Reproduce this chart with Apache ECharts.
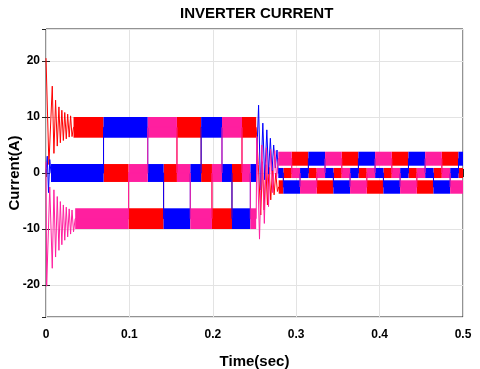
<!DOCTYPE html>
<html>
<head>
<meta charset="utf-8">
<script src="https://cdn.jsdelivr.net/npm/echarts@6/dist/echarts.min.js"></script>
<style>
html, body { margin: 0; padding: 0; background: #fff; }
#chart { width: 480px; height: 369px; }
</style>
</head>
<body>
<div id="chart"></div>
<script>
// axis ticks
var xTicks = [0, 0.1, 0.2, 0.3, 0.4, 0.5];
var yTicks = [-20, -10, 0, 10, 20];

// ripple bands of each phase: [tStart, tEnd, low, high]
var redBands = [
    [0.033, 0.069, 6.3, 10.0], [0.069, 0.099, -1.6, 1.6], [0.099, 0.141, -10.0, -6.3],
    [0.141, 0.157, -1.6, 1.6], [0.157, 0.186, 6.3, 10.0], [0.186, 0.199, -1.6, 1.6],
    [0.199, 0.223, -10.0, -6.3], [0.223, 0.235, -1.6, 1.6], [0.235, 0.252, 6.3, 10.0],
    [0.279, 0.2846, -3.7, -1.3], [0.2846, 0.2946, -0.9, 0.9], [0.2946, 0.3146, 1.3, 3.8],
    [0.3146, 0.3246, -0.9, 0.9], [0.3246, 0.3446, -3.7, -1.3], [0.3446, 0.3546, -0.9, 0.9],
    [0.3546, 0.3746, 1.3, 3.8], [0.3746, 0.3846, -0.9, 0.9], [0.3846, 0.4046, -3.7, -1.3],
    [0.4046, 0.4146, -0.9, 0.9], [0.4146, 0.4346, 1.3, 3.8], [0.4346, 0.4446, -0.9, 0.9],
    [0.4446, 0.4646, -3.7, -1.3], [0.4646, 0.4746, -0.9, 0.9], [0.4746, 0.4946, 1.3, 3.8],
    [0.4946, 0.5, -0.9, 0.9]
];
var blueBands = [
    [0.006, 0.069, -1.6, 1.6], [0.069, 0.122, 6.3, 10.0], [0.122, 0.141, -1.6, 1.6],
    [0.141, 0.173, -10.0, -6.3], [0.173, 0.186, -1.6, 1.6], [0.186, 0.211, 6.3, 10.0],
    [0.211, 0.223, -1.6, 1.6], [0.223, 0.245, -10.0, -6.3], [0.245, 0.252, -1.6, 1.6],
    [0.2785, 0.2846, -0.9, 0.9], [0.2846, 0.3046, -3.7, -1.3], [0.3046, 0.3146, -0.9, 0.9],
    [0.3146, 0.3346, 1.3, 3.8], [0.3346, 0.3446, -0.9, 0.9], [0.3446, 0.3646, -3.7, -1.3],
    [0.3646, 0.3746, -0.9, 0.9], [0.3746, 0.3946, 1.3, 3.8], [0.3946, 0.4046, -0.9, 0.9],
    [0.4046, 0.4246, -3.7, -1.3], [0.4246, 0.4346, -0.9, 0.9], [0.4346, 0.4546, 1.3, 3.8],
    [0.4546, 0.4646, -0.9, 0.9], [0.4646, 0.4846, -3.7, -1.3], [0.4846, 0.4946, -0.9, 0.9],
    [0.4946, 0.5, 1.3, 3.8]
];
var pinkBands = [
    [0.035, 0.099, -10.0, -6.3], [0.099, 0.122, -1.6, 1.6], [0.122, 0.157, 6.3, 10.0],
    [0.157, 0.173, -1.6, 1.6], [0.173, 0.199, -10.0, -6.3], [0.199, 0.211, -1.6, 1.6],
    [0.211, 0.235, 6.3, 10.0], [0.235, 0.245, -1.6, 1.6], [0.245, 0.252, -10.0, -6.3],
    [0.2785, 0.2946, 1.3, 3.8], [0.2946, 0.3046, -0.9, 0.9], [0.3046, 0.3246, -3.7, -1.3],
    [0.3246, 0.3346, -0.9, 0.9], [0.3346, 0.3546, 1.3, 3.8], [0.3546, 0.3646, -0.9, 0.9],
    [0.3646, 0.3846, -3.7, -1.3], [0.3846, 0.3946, -0.9, 0.9], [0.3946, 0.4146, 1.3, 3.8],
    [0.4146, 0.4246, -0.9, 0.9], [0.4246, 0.4446, -3.7, -1.3], [0.4446, 0.4546, -0.9, 0.9],
    [0.4546, 0.4746, 1.3, 3.8], [0.4746, 0.4846, -0.9, 0.9], [0.4846, 0.5, -3.7, -1.3]
];

// damped oscillation peaks at start-up and at the speed step: [t, current]
var redStart = [
    [0.0000, 20.5], [0.0035, 1.5], [0.0075, 15.5], [0.0095, 3.5], [0.0115, 13.0], [0.0135, 4.8],
    [0.0155, 11.8], [0.0172, 5.4], [0.0190, 11.2], [0.0208, 5.8], [0.0225, 10.8], [0.0243, 6.1],
    [0.0260, 10.5], [0.0278, 6.4], [0.0295, 10.2], [0.0312, 6.5]
];
var blueStart = [[0.0000, 0.0], [0.0015, 3.0], [0.0030, -3.5], [0.0045, 2.4]];
var pinkStart = [
    [0.0000, 2.0], [0.0008, -20.2], [0.0045, -2.5], [0.0075, -17.0], [0.0095, -3.0], [0.0115, -15.0],
    [0.0135, -4.2], [0.0155, -13.8], [0.0172, -5.1], [0.0190, -12.8], [0.0208, -5.7], [0.0225, -12.0],
    [0.0243, -6.1], [0.0260, -11.4], [0.0278, -6.4], [0.0295, -10.9], [0.0312, -6.6], [0.0330, -10.5]
];
var redStep = [
    [0.2545, 1.5], [0.2575, -7.5], [0.2595, 2.0], [0.2615, -6.6], [0.2635, 1.5], [0.2655, -5.7],
    [0.2675, 1.0], [0.2695, -4.8], [0.2715, 0.5], [0.2735, -3.9], [0.2755, 0.0], [0.2775, -3.3]
];
var blueStep = [
    [0.2549, 12.1], [0.2572, -3.0], [0.2600, 8.9], [0.2622, -1.2], [0.2648, 7.7], [0.2668, -0.2],
    [0.2690, 6.2], [0.2710, 0.4], [0.2730, 5.0], [0.2750, 0.9], [0.2770, 4.1]
];
var pinkStep = [
    [0.2528, 6.5], [0.2560, -11.8], [0.2588, 5.0], [0.2618, -9.0], [0.2643, 4.5], [0.2668, -6.0],
    [0.2693, 4.2], [0.2718, -3.5], [0.2743, 4.0], [0.2765, -1.0]
];

var font = '"Liberation Sans", Arial, Helvetica, sans-serif';

function tracePoints(bands, transients) {
    var pts = transients.slice();
    bands.forEach(function (b) {
        var c = (b[2] + b[3]) / 2;
        pts.push([b[0], c], [b[1], c]);
    });
    return pts.sort(function (a, b) { return a[0] - b[0]; });
}

function renderBand(params, api) {
    var p0 = api.coord([api.value(0), api.value(3)]);
    var p1 = api.coord([api.value(1), api.value(2)]);
    return {
        type: 'rect',
        shape: { x: p0[0], y: p0[1], width: p1[0] - p0[0], height: p1[1] - p0[1] },
        style: { fill: api.visual('color') }
    };
}

function phaseSeries(name, color, bands, transients) {
    return [{
        name: name,
        type: 'custom',
        renderItem: renderBand,
        encode: { x: [0, 1], y: [2, 3] },
        itemStyle: { color: color },
        data: bands,
        silent: true
    }, {
        name: name,
        type: 'line',
        showSymbol: false,
        lineStyle: { color: color, width: 1 },
        data: tracePoints(bands, transients),
        silent: true
    }];
}

var axisText = { color: '#000', fontFamily: font, fontWeight: 'bold', fontSize: 12 };

var option = {
    animation: false,
    title: {
        text: 'INVERTER CURRENT',
        left: 180,
        top: 6,
        padding: 0,
        textStyle: { color: '#000', fontFamily: font, fontWeight: 'bold', fontSize: 15 }
    },
    grid: {
        left: 46, right: 17, top: 29, bottom: 52,
        outerBoundsMode: 'none',
        containLabel: false,
        show: true, borderColor: '#262626', borderWidth: 1
    },
    xAxis: [{
        type: 'value', min: 0, max: 0.5, interval: 0.1,
        name: 'Time(sec)', nameLocation: 'middle', nameGap: 37, nameMoveOverlap: false,
        nameTextStyle: { color: '#000', fontFamily: font, fontWeight: 'bold', fontSize: 15 },
        axisLine: { show: false },
        axisTick: { inside: true, length: 4, lineStyle: { color: '#262626' } },
        axisLabel: Object.assign({ margin: 12, formatter: function (v) { return xTicks.indexOf(+v.toFixed(1)) >= 0 ? String(+v.toFixed(1)) : ''; } }, axisText),
        splitLine: { lineStyle: { color: '#e3e3e3' } }
    }, {
        type: 'value', min: 0, max: 0.5, interval: 0.1, position: 'top',
        axisLine: { show: false },
        axisTick: { inside: true, length: 4, lineStyle: { color: '#262626' } },
        axisLabel: { show: false },
        splitLine: { show: false }
    }],
    yAxis: [{
        type: 'value', min: -25.7, max: 25.7,
        name: 'Current(A)', nameLocation: 'middle', nameGap: 24, nameMoveOverlap: false,
        nameTextStyle: { color: '#000', fontFamily: font, fontWeight: 'bold', fontSize: 15 },
        axisLine: { show: false },
        axisTick: { inside: true, length: 4, lineStyle: { color: '#262626' } },
        axisLabel: Object.assign({
            margin: 6, showMinLabel: false, showMaxLabel: false,
            formatter: function (v) { return yTicks.indexOf(Math.round(v)) >= 0 && Math.abs(v - Math.round(v)) < 1e-6 ? String(Math.round(v)) : ''; }
        }, axisText),
        splitLine: { lineStyle: { color: '#e3e3e3' } }
    }, {
        type: 'value', min: -25.7, max: 25.7, position: 'right',
        axisLine: { show: false },
        axisTick: { inside: true, length: 4, lineStyle: { color: '#262626' } },
        axisLabel: { show: false },
        splitLine: { show: false }
    }],
    series: [].concat(
        phaseSeries('ia', '#ff0000', redBands, redStart.concat(redStep)),
        phaseSeries('ib', '#0000ff', blueBands, blueStart.concat(blueStep)),
        phaseSeries('ic', '#ff1f9f', pinkBands, pinkStart.concat(pinkStep))
    )
};

var myChart = echarts.init(document.getElementById('chart'));
myChart.setOption(option);
</script>
</body>
</html>
